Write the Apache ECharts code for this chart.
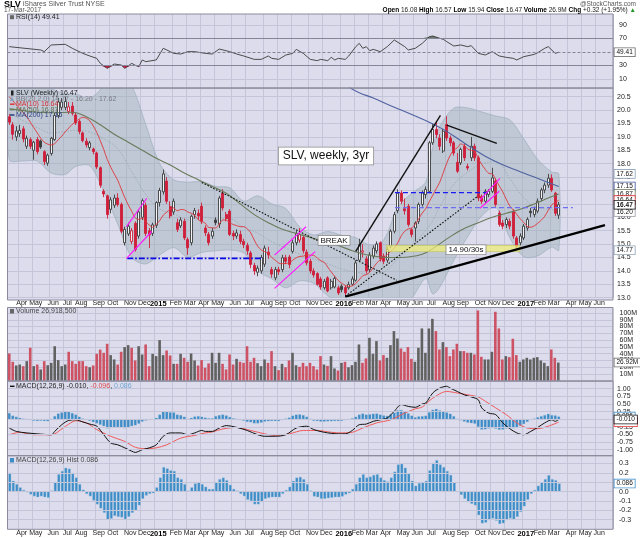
<!DOCTYPE html>
<html>
<head>
<meta charset="utf-8">
<title>SLV weekly</title>
<script src="https://cdn.jsdelivr.net/npm/echarts@6.0.0/dist/echarts.min.js"></script>
<style>
html,body{margin:0;padding:0;background:#ffffff;}
#chart{width:640px;height:538px;}
</style>
</head>
<body>
<div id="chart"></div>
<script>
// ================= DATA =================
const startWeek = '2014-03-14';
const weekCount = 173;

const xTickIdx = [3,7,12,16,20,25,29,34,38,42,47,51,55,59,64,68,73,77,81,86,90,95,99,103,107,112,116,120,125,129,134,138,142,147,151,155,160,164,168];
const xTickLabels = ['Apr','May','Jun','Jul','Aug','Sep','Oct','Nov','Dec','2015','Feb','Mar','Apr','May','Jun','Jul','Aug','Sep','Oct','Nov','Dec','2016','Feb','Mar','Apr','May','Jun','Jul','Aug','Sep','Oct','Nov','Dec','2017','Feb','Mar','Apr','May','Jun'];

const opens = [19.75,19.45,19.0,19.12,19.3,18.65,18.9,18.5,18.9,18.85,
18.45,18.02,18.38,18.9,19.8,20.1,20.1,19.95,20.15,19.82,
19.58,19.15,18.84,18.6,18.55,18.4,17.85,16.97,16.8,16.3,
16.45,16.72,16.48,15.05,15.38,15.1,15.78,15.3,16.0,16.45,
15.5,15.4,15.7,16.55,16.95,17.35,16.4,16.2,15.8,15.68,
15.85,15.17,15.05,16.1,16.15,16.41,15.6,15.36,15.3,15.9,
15.75,16.9,16.1,16.23,15.4,15.3,15.36,15.1,14.95,14.67,
14.2,13.95,14.0,14.25,14.7,14.05,13.74,14.05,14.05,14.49,
14.52,14.73,15.05,15.15,15.25,14.7,14.36,14.0,13.9,13.7,
13.37,13.74,13.37,13.4,13.37,13.43,13.38,13.37,13.5,13.65,
14.4,14.7,14.45,14.05,14.55,14.75,15.05,14.55,14.4,14.92,
15.48,16.25,16.91,16.32,16.41,15.54,15.6,15.85,16.48,16.85,
16.97,18.78,19.28,18.96,18.47,19.46,18.96,18.78,18.05,18.03,
18.65,17.9,18.22,18.65,18.22,16.78,16.6,16.85,16.97,17.35,
16.16,15.79,15.73,15.85,16.23,15.23,15.05,15.23,15.6,16.23,
16.1,16.23,16.7,17.02,17.2,17.46,16.9,16.08];
const closes = [19.55,19.1,19.22,19.24,18.92,18.95,18.65,18.8,18.45,18.62,
18.08,18.32,18.95,19.8,20.3,20.3,20.32,20.12,19.88,19.52,
19.2,18.86,18.7,18.78,18.45,17.88,17.2,16.87,16.1,16.65,
16.72,16.48,15.48,15.55,15.67,15.5,14.8,16.2,16.62,15.4,
15.35,15.72,16.55,17.0,17.62,16.6,16.05,16.6,15.55,15.9,
15.23,14.86,16.04,16.25,16.05,15.85,15.42,15.05,15.48,15.8,
16.72,16.35,15.95,15.36,15.3,15.42,15.1,14.98,14.75,14.24,
14.0,14.1,14.5,14.85,14.6,13.88,14.05,13.97,14.49,14.36,
14.24,15.05,15.4,15.35,14.75,14.3,14.0,13.85,13.5,13.4,
13.61,13.25,13.61,13.72,13.18,13.3,13.18,13.49,13.7,14.3,
14.98,14.75,14.0,14.6,14.85,15.0,14.45,14.36,14.8,15.48,
16.1,16.9,16.6,16.24,15.73,15.36,15.79,16.48,16.91,17.04,
18.78,19.28,19.09,18.65,19.21,18.96,18.78,18.4,17.72,18.53,
18.22,17.84,18.65,18.22,16.72,16.6,16.97,16.97,17.47,16.48,
15.73,15.67,15.92,15.67,15.3,14.92,15.3,15.67,15.92,16.17,
16.29,16.6,17.02,17.2,17.46,17.02,16.15,16.47];
const lows = [19.45,18.9,18.85,19.0,18.8,18.55,18.55,18.15,18.35,18.55,
17.95,17.92,18.3,18.85,19.7,20.0,20.0,19.85,19.8,19.45,
19.1,18.8,18.6,18.5,18.35,17.8,17.1,16.75,15.95,16.15,
16.35,16.4,15.4,14.95,15.3,15.0,14.72,15.2,15.9,15.3,
14.85,15.3,15.6,16.4,16.85,16.5,15.95,16.1,15.45,15.6,
15.15,14.6,14.95,15.95,15.9,15.75,15.3,14.95,15.2,15.7,
15.6,16.25,15.85,15.3,15.15,15.2,15.0,14.85,14.6,14.1,
13.85,13.8,13.9,14.15,14.45,13.75,13.65,13.85,13.95,14.25,
14.1,14.65,14.95,15.05,14.65,14.2,13.9,13.75,13.45,13.3,
13.3,13.2,13.3,13.35,13.1,13.2,13.05,13.3,13.45,13.6,
14.35,14.5,13.9,13.95,14.45,14.65,14.35,14.25,14.3,14.85,
15.4,16.15,16.5,16.1,15.65,15.25,15.1,15.75,16.4,16.7,
16.9,18.7,18.95,18.5,18.4,18.85,18.65,18.3,17.65,17.95,
18.1,17.75,18.1,18.1,16.6,16.5,16.5,16.75,16.9,16.4,
15.65,15.55,15.6,15.55,15.2,14.8,14.95,15.15,15.5,16.0,
16.0,16.15,16.6,16.9,17.1,16.95,16.05,15.94];
const highs = [19.85,19.55,19.4,19.45,19.4,19.05,18.98,18.85,19.0,18.9,
18.5,18.38,19.0,19.9,20.45,20.45,20.5,20.3,20.3,19.9,
19.65,19.2,18.95,18.85,18.6,18.45,17.9,17.05,16.85,16.75,
16.85,16.9,16.55,15.65,15.8,15.6,15.85,16.3,16.7,16.55,
15.6,15.8,16.6,17.1,17.78,17.5,16.6,16.7,15.95,16.0,
15.95,15.25,16.1,16.35,16.3,16.55,15.7,15.45,15.6,16.0,
16.8,17.05,16.2,16.3,15.5,15.55,15.5,15.2,15.05,14.75,
14.3,14.2,14.6,14.95,14.9,14.15,14.15,14.15,14.6,14.6,
14.6,15.15,15.5,15.6,15.35,14.8,14.45,14.1,13.95,13.78,
13.7,13.8,13.7,13.8,13.45,13.5,13.45,13.6,13.8,14.4,
15.2,15.0,14.55,14.7,14.95,15.1,15.1,14.65,14.9,15.55,
16.2,17.05,17.0,16.7,16.5,15.6,15.85,16.55,17.0,17.15,
18.85,19.5,19.55,19.1,19.3,19.77,19.05,18.85,18.4,18.6,
18.75,18.0,19.0,18.75,18.3,16.85,17.05,17.05,17.85,17.45,
16.25,15.9,16.0,15.95,16.3,15.3,15.4,15.75,16.0,16.35,
16.4,16.7,17.1,17.3,17.62,17.6,16.95,16.57];

const volumeM = [40.3,28,22.6,24,21.6,29,48.7,21.6,24,16.7,
29,23,26.5,51,30.5,21.6,24,42.8,29,25,
29,29,21.6,20,22.6,39.8,46,41.3,54.6,37.9,
31.5,24,42.8,49.7,52.6,48.7,30,51,38.8,53.6,
21.6,39.8,36.4,60,37.9,44.7,37.4,25,25,39.8,
33.9,28,40.3,30,22.6,30.5,19.2,25.6,41.3,26.5,
41.3,25,16.7,38.8,24,32.4,28,26.5,51,28,
33.9,26,21.6,31.5,26.5,43.8,21.6,15.7,25,20,
30,41.3,23,20.6,26.5,21.6,26.5,21.6,16.7,36.4,
24,22,36.4,18.2,15.2,26.5,28,20,23,28,
53.6,26.5,33,63.4,39.8,58.5,30,37.9,33.9,52.6,
73.3,62.4,47.7,42.8,49.7,32.4,28,48.7,77.2,41.3,
77.2,91.4,73.3,46.2,57,49.7,36.4,46.2,54.6,43.8,
43.8,41.3,41.3,38.8,103.7,35.4,31.5,31.5,42.8,101.8,
77.2,31.5,36.4,34.9,62,37.9,28,31.5,33.9,31.5,
33.9,34.9,30,26.5,21.6,46.2,33.9,26.92];

const ma10 = [20.5,20.35,20.2,20.05,19.9,19.75,19.55,19.35,19.15,18.95,
18.80,18.73,18.70,18.75,18.89,19.03,19.19,19.33,19.47,19.56,
19.67,19.73,19.70,19.60,19.41,19.17,18.86,18.53,18.16,17.87,
17.62,17.38,17.06,16.74,16.46,16.22,15.98,15.92,15.97,15.84,
15.71,15.63,15.74,15.88,16.08,16.19,16.31,16.35,16.24,16.29,
16.28,16.20,16.15,16.07,15.91,15.84,15.78,15.62,15.61,15.60,
15.75,15.90,15.89,15.80,15.73,15.69,15.65,15.65,15.57,15.42,
15.15,14.92,14.78,14.72,14.65,14.50,14.40,14.29,14.27,14.28,
14.30,14.40,14.49,14.54,14.55,14.60,14.59,14.58,14.48,14.38,
14.32,14.14,13.96,13.80,13.64,13.54,13.46,13.42,13.44,13.53,
13.67,13.82,13.86,13.95,14.12,14.29,14.41,14.50,14.61,14.73,
14.84,15.05,15.31,15.48,15.57,15.60,15.74,15.95,16.16,16.32,
16.58,16.82,17.07,17.31,17.66,18.02,18.32,18.51,18.59,18.74,
18.68,18.54,18.50,18.45,18.20,17.97,17.79,17.64,17.62,17.41,
17.17,16.95,16.68,16.42,16.28,16.11,15.94,15.81,15.66,15.63,
15.68,15.78,15.89,16.04,16.26,16.47,16.55,16.64];

const ma50Idx = [0,6,12,18,22,26,30,34,38,42,46,50,54,58,62,66,70,74,78,82,86,90,94,98,102,106,110,114,118,122,126,130,134,138,142,146,150,154,157];
const ma50Val = [20.05,19.95,19.9,19.92,19.75,19.45,19.1,18.8,18.5,18.2,17.95,17.65,17.4,17.15,16.9,16.5,16.1,15.8,15.55,15.4,15.25,15.1,14.95,14.75,14.6,14.52,14.5,14.52,14.62,14.92,15.28,15.58,15.8,16.0,16.15,16.3,16.5,16.72,16.87];

const ma200Idx = [97,100,104,108,112,116,120,124,128,132,136,140,144,148,152,157];
const ma200Val = [20.85,20.65,20.45,20.22,20.0,19.78,19.55,19.28,18.95,18.6,18.28,18.02,17.8,17.6,17.4,17.15];

const bbIdx = [0,4,8,12,16,19,23,27,31,35,39,43,47,51,55,59,63,67,71,75,79,83,87,91,95,99,103,107,111,115,119,121,123,127,131,135,139,143,147,151,155,157];
const bbUpper = [21.3,21.2,21.0,20.8,20.6,20.6,20.44,20.89,21.35,20.9,19.46,18.0,17.4,17.31,17.33,17.15,17.1,16.6,16.8,16.5,16.33,15.63,15.34,15.47,15.33,15.24,14.97,15.16,16.38,16.9,17.32,18.62,19.39,20.07,20.08,19.93,19.78,19.64,18.93,18.16,17.69,17.62];
const bbMid = [19.9,19.6,19.35,19.15,19.2,19.25,19.18,18.93,18.55,17.70,16.86,16.31,16.13,15.91,16.01,15.95,15.94,15.63,15.41,15.09,14.85,14.63,14.44,14.27,14.07,13.96,13.87,13.96,14.44,14.94,15.52,15.88,16.39,17.23,17.68,17.99,18.08,17.44,16.73,16.36,16.29,16.22];
const bbLower = [18.15,18.1,18.1,17.65,17.6,17.9,17.92,16.97,15.75,14.5,14.26,14.6,14.87,14.51,14.69,14.75,14.78,14.67,14.0,13.7,13.37,13.63,13.54,13.07,12.81,12.68,12.77,12.76,12.5,12.98,13.72,13.14,13.39,14.39,15.28,16.05,16.38,15.24,14.53,14.56,14.89,14.77];

const rsiIdx = [0,9,10,12,16,18,21,23,25,26,28,30,32,33,35,36,37,38,39,42,44,46,47,49,51,53,56,58,60,63,65,67,70,72,74,75,77,79,81,82,84,86,88,89,91,92,93,94,96,97,99,100,101,102,103,104,106,108,110,113,114,116,118,120,121,123,124,125,127,129,131,132,134,136,138,140,142,144,145,147,150,151,153,154,156,157];
const rsiVal = [57.6,52.7,50.2,60.1,61.1,55.2,47.7,43.8,40.3,32.9,25.5,31.9,30.4,25.5,32.9,30,28,37.9,35.4,37.9,55.2,50.2,47.7,46.7,50.2,50.2,47.7,46.7,54.1,50.2,46.7,43.8,38.8,38.8,43.8,40.3,38.8,45.2,47.7,53.6,47.7,38.8,36.9,38.8,36.9,41.8,37.9,40.3,38.8,43.8,57.6,62.5,55.2,57.6,51.7,53.6,50.2,57.6,67.5,57.6,52.7,55.2,62.5,72.4,73.4,70,68.5,65,58.6,60.1,57.6,59.1,47.7,45.3,50.2,43.8,41.8,40.3,37.9,42.8,46.2,48.7,55.2,57.6,47.7,49.41];

const macdIdx = [0,2,5,8,12,13,15,17,19,21,23,25,27,29,31,33,35,36,38,40,42,44,46,49,51,53,55,56,58,60,62,65,68,71,73,76,79,82,85,87,90,94,96,98,100,102,104,106,108,110,112,114,116,118,119,121,123,125,126,128,130,132,134,135,137,139,141,143,145,147,149,151,153,155,156,157];
const macdVal = [-0.29,-0.40,-0.45,-0.48,-0.51,-0.40,-0.18,-0.04,-0.02,-0.09,-0.16,-0.23,-0.51,-0.78,-0.84,-0.94,-1.05,-1.09,-1.0,-0.94,-0.84,-0.56,-0.45,-0.45,-0.51,-0.45,-0.37,-0.40,-0.40,-0.29,-0.21,-0.27,-0.37,-0.51,-0.56,-0.56,-0.51,-0.29,-0.23,-0.34,-0.43,-0.48,-0.48,-0.37,-0.18,-0.16,-0.07,-0.02,0.04,0.26,0.48,0.42,0.39,0.50,0.53,0.86,1.02,1.08,1.02,0.91,0.80,0.73,0.64,0.37,0.20,0.15,-0.12,-0.31,-0.45,-0.51,-0.40,-0.27,-0.12,-0.02,-0.07,-0.01];
const signalIdx = [0,3,7,12,16,19,22,25,29,33,36,39,42,45,49,53,56,58,61,65,69,73,76,80,84,88,92,95,98,101,105,109,113,116,118,121,125,128,131,134,136,139,142,145,148,151,154,157];
const signalVal = [-0.51,-0.43,-0.51,-0.51,-0.24,-0.05,-0.12,-0.34,-0.56,-0.73,-0.92,-0.97,-0.94,-0.84,-0.62,-0.53,-0.45,-0.42,-0.32,-0.27,-0.37,-0.48,-0.53,-0.48,-0.37,-0.37,-0.43,-0.45,-0.43,-0.29,-0.12,-0.02,0.2,0.34,0.40,0.69,0.91,0.86,0.80,0.73,0.59,0.37,0.15,-0.12,-0.29,-0.31,-0.23,-0.096];

const macdHist = [0.20,0.115,0.08,0.045,0.017,-0.007,-0.03,-0.05,-0.06,-0.05,
-0.06,-0.066,0.01,0.1,0.185,0.22,0.255,0.245,0.20,0.15,
0.08,0.02,-0.025,-0.05,-0.095,-0.136,-0.18,-0.227,-0.30,-0.29,
-0.26,-0.27,-0.276,-0.297,-0.27,-0.227,-0.2,-0.147,-0.077,-0.042,
-0.024,-0.017,0.045,0.15,0.262,0.248,0.227,0.22,0.15,0.133,
0.08,0.01,0.045,0.087,0.098,0.08,0.052,0.028,0.028,0.1,
0.133,0.15,0.122,0.073,0.028,0.01,-0.024,-0.049,-0.087,-0.1,
-0.136,-0.136,-0.112,-0.077,-0.066,-0.06,-0.06,-0.06,-0.024,0.017,
0.052,0.115,0.15,0.157,0.133,0.08,0.01,-0.052,-0.06,-0.077,
-0.077,-0.07,-0.066,-0.06,-0.06,-0.052,-0.031,-0.017,0.028,0.08,
0.15,0.185,0.15,0.16,0.178,0.185,0.15,0.122,0.108,0.15,
0.213,0.29,0.297,0.255,0.192,0.115,0.063,0.091,0.098,0.115,
0.227,0.308,0.336,0.29,0.262,0.22,0.178,0.098,0,-0.035,
-0.077,-0.112,-0.13,-0.147,-0.252,-0.34,-0.332,-0.304,-0.287,-0.311,
-0.346,-0.339,-0.304,-0.287,-0.297,-0.27,-0.217,-0.157,-0.087,-0.024,
0.017,0.063,0.098,0.133,0.175,0.133,0.122,0.086];

// annotations drawn on the price panel, in (week index, price) coordinates
const annoLines = [
  [96, 13.04, 170.2, 15.71, 'thick'],
  [99, 14.73, 123.2, 19.8, 'solid'],
  [96, 13.05, 134, 16.8, 'dotted'],
  [55, 17.3, 110.7, 13.65, 'dotted'],
  [125, 19.44, 139.3, 18.76, 'solid'],
  [33.7, 14.47, 72.5, 14.47, 'blueDashDot'],
  [110.2, 16.92, 137.4, 16.92, 'blueDash'],
  [110.2, 16.36, 161, 16.36, 'blueDashLight'],
  [33.5, 15.65, 39.3, 16.71, 'magenta'],
  [33.5, 14.47, 40.7, 15.47, 'magenta'],
  [75.8, 14.59, 84.8, 15.65, 'magenta'],
  [75.8, 13.35, 87.4, 14.72, 'magenta'],
  [134.5, 16.65, 140.2, 17.45, 'magenta'],
  [134.5, 16.34, 140.0, 16.97, 'magenta']
];
const annoZone = [107.8, 14.72, 145.9, 14.95];
const annoTexts = [
  ['SLV, weekly, 3yr', 90.5, 18.29, 'big'],
  ['BREAK', 92.8, 15.14, 'small'],
  ['14.90/30s', 130.5, 14.79, 'small']
];

// ================= STYLE / LAYOUT =================
const FONT = '"Liberation Sans", Arial, sans-serif';
const PANEL_BG = '#dcdcec';
const GRIDC = '#c5c5da';
const BORDER = '#8a8a9c';
const RED = '#cf1f3b';
const DARK = '#3c3c3c';
const HOLLOW = '#f3f3f8';
const VRED = '#cd5264';
const VGRAY = '#616161';
const BLUEBAR = '#3c8cc8';
const X0 = 7.5, XW = 605.5;
const MAIN_MAX = 13 + 209.7 / 26.8;
const VOL_MAX = 73.3 / 0.678;

const lineStyles = {
  thick: {stroke: '#000', lineWidth: 2.2},
  solid: {stroke: '#111', lineWidth: 1.4},
  dotted: {stroke: '#111', lineWidth: 1.1, lineDash: [1.6, 1.6]},
  blueDashDot: {stroke: '#0a0ae6', lineWidth: 1.8, lineDash: [6, 2, 1.6, 2]},
  blueDash: {stroke: '#1c1cf2', lineWidth: 1.3, lineDash: [5, 3]},
  blueDashLight: {stroke: '#6d6df4', lineWidth: 1.3, lineDash: [5, 3]},
  magenta: {stroke: '#ff1aff', lineWidth: 1.2}
};
const textBoxStyles = {
  big: {font: '12px ' + FONT, padding: [3, 4, 2, 4]},
  small: {font: '8px ' + FONT, padding: [1, 2, 0, 2]}
};

// ================= BUILD =================
const categories = [];
(function () {
  const t0 = Date.parse(startWeek + 'T00:00:00Z');
  for (let k = 0; k < weekCount; k++) {
    categories.push(new Date(t0 + k * 7 * 86400000).toISOString().slice(0, 10));
  }
})();
const tickAt = {};
xTickIdx.forEach((k, j) => { tickAt[k] = xTickLabels[j]; });
const isTick = (idx) => Object.prototype.hasOwnProperty.call(tickAt, idx);

function catAxis(gi, showLabels) {
  return {
    type: 'category', gridIndex: gi, data: categories, boundaryGap: true,
    axisLine: {show: false}, axisTick: {show: false},
    axisLabel: {
      show: showLabels, interval: (idx) => isTick(idx), margin: gi === 4 ? 1 : 2,
      fontFamily: FONT, fontSize: 7, color: '#222', padding: [0, 0, 0, 4],
      formatter: (v, idx) => { const t = tickAt[idx] || ''; return /^\d{4}$/.test(t) ? '{y|' + t + '}' : t; },
      rich: {y: {fontFamily: FONT, fontSize: 7.5, fontWeight: 'bold', color: '#000'}}
    },
    splitLine: {show: true, interval: (idx) => isTick(idx), lineStyle: {color: GRIDC, width: 1}}
  };
}
function valXAxis(gi) {
  return {type: 'value', gridIndex: gi, min: -0.5, max: weekCount - 0.5, show: false};
}
const yLab = (margin, fmt) => ({fontFamily: FONT, fontSize: 7, color: '#222', margin: margin, formatter: fmt});

const pairs = (xs, ys) => xs.map((x, k) => [x, ys[k]]);

const candleData = opens.map((o, k) => {
  const c = closes[k];
  const pc = k > 0 ? closes[k - 1] : c + 0.2;
  const col = c < pc ? RED : DARK;
  const fill = c >= o ? HOLLOW : col;
  return {value: [o, c, lows[k], highs[k]], itemStyle: {color: fill, color0: fill, borderColor: col, borderColor0: col}};
});
const volData = volumeM.map((v, k) => {
  const pc = k > 0 ? closes[k - 1] : closes[k] + 0.2;
  const c = closes[k] < pc ? VRED : VGRAY;
  return {value: v, itemStyle: {color: c}};
});

function gridMarks(values, styleFn) {
  return {
    silent: true, symbol: 'none', label: {show: false}, animation: false,
    data: values.map(v => ({yAxis: v, lineStyle: styleFn(v)}))
  };
}

const option = {
  animation: false,
  backgroundColor: 'transparent',
  grid: [
    {left: X0, width: XW, top: 11.3, height: 81},
    {left: X0, width: XW, top: 88, height: 209.7},
    {left: X0, width: XW, top: 307.5, height: 73.3},
    {left: X0, width: XW, top: 381.1, height: 76.2},
    {left: X0, width: XW, top: 454.2, height: 76.2}
  ],
  xAxis: [catAxis(0, false), catAxis(1, true), catAxis(2, false), catAxis(3, false), catAxis(4, true),
          valXAxis(0), valXAxis(1), valXAxis(3)],
  yAxis: [
    {type: 'value', gridIndex: 0, min: -10, max: 110, interval: 20, position: 'right',
     axisLine: {show: false}, axisTick: {show: false}, splitLine: {show: false},
     axisLabel: yLab(6, v => (v >= 10 && v <= 90 && v !== 50) ? String(v) : '')},
    {type: 'value', gridIndex: 1, min: 13, max: MAIN_MAX, interval: 0.5, position: 'right',
     axisLine: {show: false}, axisTick: {show: false},
     splitLine: {show: true, lineStyle: {color: GRIDC}},
     axisLabel: yLab(4, v => (Math.abs(v * 2 - Math.round(v * 2)) < 1e-6 && v < 20.6) ? v.toFixed(1) : '')},
    {type: 'value', gridIndex: 2, min: 0, max: VOL_MAX, interval: 10, position: 'right',
     axisLine: {show: false}, axisTick: {show: false},
     splitLine: {show: true, lineStyle: {color: GRIDC}},
     axisLabel: yLab(7, v => (v > 1 && v < 101 && Math.abs(v / 10 - Math.round(v / 10)) < 1e-6) ? Math.round(v) + 'M' : '')},
    {type: 'value', gridIndex: 3, min: -1.25, max: 1.25, interval: 0.25, position: 'right',
     axisLine: {show: false}, axisTick: {show: false}, splitLine: {show: false},
     axisLabel: yLab(4, v => Math.abs(v) <= 1.001 ? (Math.abs(v) < 1e-9 ? '0.00' : v.toFixed(2)) : '')},
    {type: 'value', gridIndex: 4, min: -0.4, max: 0.4, interval: 0.1, position: 'right',
     axisLine: {show: false}, axisTick: {show: false}, splitLine: {show: false},
     axisLabel: yLab(6, v => Math.abs(v) <= 0.301 ? (Math.abs(v) < 1e-9 ? '0.0' : v.toFixed(1)) : '')}
  ],
  series: [
    // ---- RSI panel ----
    {type: 'line', name: 'rsiGrid', xAxisIndex: 5, yAxisIndex: 0, z: 1, data: [[-5, 50]], symbol: 'none',
     lineStyle: {opacity: 0}, silent: true,
     markLine: gridMarks([90, 70, 50, 30, 10], v => (v === 70 || v === 30) ? {color: '#85859a', width: 1, type: 'solid'}
       : (v === 50 ? {color: '#85859a', width: 1, type: [3, 2]} : {color: GRIDC, width: 1, type: 'solid'}))},
    {type: 'line', name: 'rsiHi', xAxisIndex: 5, yAxisIndex: 0, z: 2, symbol: 'none', silent: true,
     data: pairs(rsiIdx, rsiVal.map(v => Math.max(v, 70))), lineStyle: {width: 0, opacity: 0},
     areaStyle: {origin: 70, color: '#6a7868', opacity: 1}},
    {type: 'line', name: 'rsiLo', xAxisIndex: 5, yAxisIndex: 0, z: 2, symbol: 'none', silent: true,
     data: pairs(rsiIdx, rsiVal.map(v => Math.min(v, 30))), lineStyle: {width: 0, opacity: 0},
     areaStyle: {origin: 30, color: '#cc2040', opacity: 1}},
    {type: 'line', name: 'RSI', xAxisIndex: 5, yAxisIndex: 0, z: 3, symbol: 'none', silent: true,
     data: pairs(rsiIdx, rsiVal), lineStyle: {color: '#3a3a3a', width: 0.9}},

    // ---- Price panel ----
    {type: 'custom', name: 'BB', xAxisIndex: 6, yAxisIndex: 1, z: 1, clip: true, silent: true,
     data: [[0, 15]],
     renderItem: function (params, api) {
       const pts = [];
       for (let k = 0; k < bbIdx.length; k++) pts.push(api.coord([bbIdx[k], bbUpper[k]]));
       for (let k = bbIdx.length - 1; k >= 0; k--) pts.push(api.coord([bbIdx[k], bbLower[k]]));
       return {type: 'polygon', shape: {points: pts, smooth: 0.3},
               style: {fill: 'rgba(150,172,178,0.42)', stroke: '#a3b3c2', lineWidth: 0.8}};
     }},
    {type: 'line', name: 'BBmid', xAxisIndex: 6, yAxisIndex: 1, z: 2, symbol: 'none', silent: true, smooth: 0.4,
     data: pairs(bbIdx, bbMid), lineStyle: {color: '#9aa6b4', width: 0.8, type: [1.5, 1.5]}},
    {type: 'candlestick', name: 'SLV', xAxisIndex: 1, yAxisIndex: 1, z: 3, barWidth: 2.6, silent: true,
     data: candleData, itemStyle: {borderWidth: 0.9}},
    {type: 'line', name: 'MA10', xAxisIndex: 1, yAxisIndex: 1, z: 4, symbol: 'none', silent: true, smooth: 0.3,
     data: ma10, lineStyle: {color: '#e0343a', width: 0.9}},
    {type: 'line', name: 'MA50', xAxisIndex: 6, yAxisIndex: 1, z: 4, symbol: 'none', silent: true, smooth: 0.4,
     data: pairs(ma50Idx, ma50Val), lineStyle: {color: '#6a7a5a', width: 1.1}},
    {type: 'line', name: 'MA200', xAxisIndex: 6, yAxisIndex: 1, z: 4, symbol: 'none', silent: true, smooth: 0.4,
     data: pairs(ma200Idx, ma200Val), lineStyle: {color: '#4f62a0', width: 1.1}},
    {type: 'custom', name: 'zone', xAxisIndex: 6, yAxisIndex: 1, z: 5, clip: true, silent: true,
     data: [[annoZone[0], annoZone[1]]],
     renderItem: function (params, api) {
       const a = api.coord([annoZone[0], annoZone[3]]), b = api.coord([annoZone[2], annoZone[1]]);
       return {type: 'rect', shape: {x: a[0], y: a[1], width: b[0] - a[0], height: b[1] - a[1]},
               style: {fill: 'rgba(238,238,120,0.75)', stroke: '#c9c96a', lineWidth: 0.8}};
     }},
    {type: 'custom', name: 'lines', xAxisIndex: 6, yAxisIndex: 1, z: 6, clip: true, silent: true,
     data: annoLines.map(a => [a[0], a[1]]),
     renderItem: function (params, api) {
       const a = annoLines[params.dataIndex];
       const p1 = api.coord([a[0], a[1]]), p2 = api.coord([a[2], a[3]]);
       return {type: 'line', shape: {x1: p1[0], y1: p1[1], x2: p2[0], y2: p2[1]},
               style: Object.assign({fill: null}, lineStyles[a[4]])};
     }},
    {type: 'custom', name: 'notes', xAxisIndex: 6, yAxisIndex: 1, z: 7, clip: false, silent: true,
     data: annoTexts.map(a => [a[1], a[2]]),
     renderItem: function (params, api) {
       const a = annoTexts[params.dataIndex];
       const p = api.coord([a[1], a[2]]);
       const s = textBoxStyles[a[3]];
       return {type: 'text', x: p[0], y: p[1],
               style: {text: a[0], font: s.font, fill: '#111', align: 'center', verticalAlign: 'middle',
                       backgroundColor: '#ffffff', borderColor: '#8a8a8a', borderWidth: 0.8, padding: s.padding}};
     }},

    // ---- Volume panel ----
    {type: 'bar', name: 'Volume', xAxisIndex: 2, yAxisIndex: 2, z: 3, barWidth: 2.6, silent: true, data: volData},

    // ---- MACD panel ----
    {type: 'line', name: 'macdGrid', xAxisIndex: 7, yAxisIndex: 3, z: 1, data: [[-5, 0]], symbol: 'none',
     lineStyle: {opacity: 0}, silent: true,
     markLine: gridMarks([1, 0.75, 0.5, 0.25, 0, -0.25, -0.5, -0.75, -1], () => ({color: GRIDC, width: 1, type: 'solid'}))},
    {type: 'bar', name: 'macdHistInPanel', xAxisIndex: 3, yAxisIndex: 3, z: 2, barWidth: 2.7, silent: true,
     data: macdHist, itemStyle: {color: BLUEBAR, borderColor: '#8cb6d6', borderWidth: 0.3}},
    {type: 'line', name: 'MACD', xAxisIndex: 7, yAxisIndex: 3, z: 4, symbol: 'none', silent: true, smooth: 0.3,
     data: pairs(macdIdx, macdVal), lineStyle: {color: '#111', width: 1}},
    {type: 'line', name: 'Signal', xAxisIndex: 7, yAxisIndex: 3, z: 3, symbol: 'none', silent: true, smooth: 0.3,
     data: pairs(signalIdx, signalVal), lineStyle: {color: '#f05a5a', width: 1}},

    // ---- MACD histogram panel ----
    {type: 'bar', name: 'histGridHolder', xAxisIndex: 4, yAxisIndex: 4, z: 1, data: [], silent: true,
     markLine: gridMarks([0.3, 0.2, 0.1, 0, -0.1, -0.2, -0.3], () => ({color: GRIDC, width: 1, type: 'solid'}))},
    {type: 'bar', name: 'Hist', xAxisIndex: 4, yAxisIndex: 4, z: 3, barWidth: 2.8, silent: true,
     data: macdHist, itemStyle: {color: BLUEBAR, borderColor: '#9cc2de', borderWidth: 0.4}}
  ]
};

const chart = echarts.init(document.getElementById('chart'), null, {renderer: 'canvas', width: 640, height: 538});
chart.setOption(option);

// ================= TEXT / FRAME GRAPHICS =================
const panels = [[14, 88], [88, 300], [307.5, 381], [381, 455.7], [455.7, 529.3]];
const els = [];
els.push({type: 'rect', z: 50, silent: true, shape: {x: 0, y: 0, width: 640, height: 13.9}, style: {fill: '#ffffff'}});
panels.forEach(p => {
  els.push({type: 'rect', z: -100, silent: true, shape: {x: X0, y: p[0], width: XW, height: p[1] - p[0]}, style: {fill: PANEL_BG}});
  els.push({type: 'rect', z: 150, silent: true, shape: {x: X0, y: p[0], width: XW, height: p[1] - p[0]}, style: {fill: null, stroke: BORDER, lineWidth: 1}});
});
function T(x, y, text, extra) {
  return {type: 'text', x: x, y: y, z: 200, silent: true,
          style: Object.assign({text: text, font: '7px ' + FONT, fill: '#222', align: 'left', verticalAlign: 'middle',
                                textAlign: 'left', textVerticalAlign: 'middle'}, extra || {})};
}
// header
els.push(T(4, 4.5, '{b|SLV} {g|iShares Silver Trust NYSE}', {rich: {b: {font: 'bold 9px ' + FONT, fill: '#000'}, g: {font: '7px ' + FONT, fill: '#555'}}}));
els.push(T(4, 10.6, '17-Mar-2017', {font: '6.5px ' + FONT, fill: '#555'}));
els.push(T(636, 4.2, '@StockCharts.com', {font: '6.5px ' + FONT, fill: '#555', align: 'right', textAlign: 'right'}));
els.push(T(636, 10.6, '{b|Open} 16.08 {b|High} 16.57 {b|Low} 15.94 {b|Close} 16.47 {b|Volume} 26.9M {b|Chg} +0.32 (+1.95%) {u|\u25B2}',
  {font: '6.5px ' + FONT, fill: '#222', align: 'right', textAlign: 'right',
   rich: {b: {font: 'bold 6.5px ' + FONT, fill: '#000'}, u: {font: '6.5px ' + FONT, fill: '#2a9a2a'}}}));
// panel titles
els.push({type: 'rect', z: 200, silent: true, shape: {x: 10, y: 15.2, width: 4, height: 4}, style: {fill: '#666'}});
els.push(T(16, 17.4, 'RSI(14) 49.41'));
// main legend
els.push({type: 'rect', z: 200, silent: true, shape: {x: 11, y: 90.5, width: 2.5, height: 5}, style: {fill: '#222'}});
els.push(T(16, 93, 'SLV (Weekly) 16.47', {fill: '#222'}));
els.push({type: 'polygon', z: 200, silent: true, shape: {points: [[10, 101], [12, 96.5], [14, 101]]}, style: {fill: '#8aa0b8'}});
els.push(T(16, 98.6, 'BB(20,2.0) 14.77 - 16.20 - 17.62', {fill: '#7a7a86'}));
els.push({type: 'line', z: 200, silent: true, shape: {x1: 10, y1: 104.2, x2: 14.5, y2: 104.2}, style: {stroke: '#e0343a', lineWidth: 1.5}});
els.push(T(16, 104.2, 'MA(10) 16.64', {fill: '#d22d33'}));
els.push({type: 'line', z: 200, silent: true, shape: {x1: 10, y1: 109.6, x2: 14.5, y2: 109.6}, style: {stroke: '#6a7a5a', lineWidth: 1.5}});
els.push(T(16, 109.6, 'MA(50) 16.87', {fill: '#5f6e52'}));
els.push({type: 'line', z: 200, silent: true, shape: {x1: 10, y1: 115, x2: 14.5, y2: 115}, style: {stroke: '#2d3f80', lineWidth: 1.5}});
els.push(T(16, 115, 'MA(200) 17.15', {fill: '#2d3f80'}));
// volume / macd / hist titles
els.push({type: 'rect', z: 200, silent: true, shape: {x: 10, y: 309, width: 4, height: 4.5}, style: {fill: '#666'}});
els.push(T(16, 311.4, 'Volume 26,918,500', {fill: '#444'}));
els.push({type: 'line', z: 200, silent: true, shape: {x1: 10, y1: 386.3, x2: 14.5, y2: 386.3}, style: {stroke: '#111', lineWidth: 1.4}});
els.push(T(16, 386.3, 'MACD(12,26,9) -0.010, {r|-0.096}, {c|0.086}',
  {fill: '#222', rich: {r: {font: '7px ' + FONT, fill: '#e04848'}, c: {font: '7px ' + FONT, fill: '#6ea6d2'}}}));
els.push({type: 'rect', z: 200, silent: true, shape: {x: 10, y: 458, width: 4, height: 4.5}, style: {fill: '#3c8cc8'}});
els.push(T(16, 460.4, 'MACD(12,26,9) Hist 0.086', {fill: '#444'}));

// right-edge value boxes (positioned through the axes)
function vbox(axis, value, text, border, bold) {
  const y = chart.convertToPixel({yAxisIndex: axis}, value);
  return {type: 'text', x: 614.5, y: y, z: 220, silent: true,
          style: {text: text, font: (bold ? 'bold ' : '') + '6.5px ' + FONT, fill: '#111',
                  align: 'left', verticalAlign: 'middle', textAlign: 'left', textVerticalAlign: 'middle',
                  backgroundColor: '#ffffff', borderColor: border, borderWidth: 0.8, padding: [1, 2, 0, 2]}};
}
els.push(vbox(1, 17.62, '17.62', '#8ea3b6'));
els.push(vbox(1, 17.15, '17.15', '#3c52a0'));
els.push(vbox(1, 16.87, '16.87', '#6a7a5a'));
els.push(vbox(1, 16.64, '16.64', '#e0343a'));
els.push(vbox(1, 16.20, '16.20', '#9a9aa6'));
els.push(vbox(1, 16.47, '16.47', '#111', true));
els.push(vbox(1, 14.77, '14.77', '#8ea3b6'));
els.push(vbox(0, 49.41, '49.41', '#666'));
els.push(vbox(2, 26.92, '26.92M', '#666'));
els.push(vbox(3, 0.086, '0.086', '#3c8cc8'));
els.push(vbox(3, -0.096, '-0.096', '#e04848'));
els.push(vbox(3, -0.010, '-0.010', '#111'));
els.push(vbox(4, 0.086, '0.086', '#3c8cc8'));

chart.setOption({graphic: {elements: els}});
</script>
</body>
</html>
